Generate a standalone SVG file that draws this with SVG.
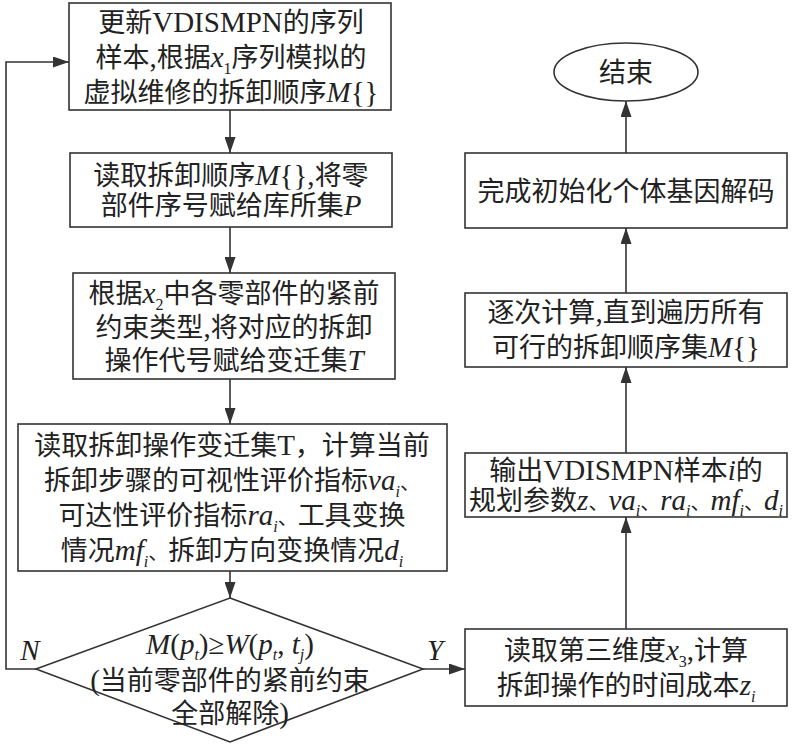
<svg xmlns="http://www.w3.org/2000/svg" width="794" height="745" viewBox="0 0 794 745">
<style>
.t{font-family:"Liberation Serif","Noto Sans CJK SC",serif;font-size:27px;fill:#222;text-anchor:middle}
.i{font-style:italic;font-size:29px}
.L{font-size:29px}
.s{font-size:16px}
.d{font-size:20px}
.box{fill:#fff;stroke:#333;stroke-width:1.6}
.ln{stroke:#333;stroke-width:1.6;fill:none}
</style>
<defs>
<marker id="ah" viewBox="0 0 16 11" refX="16" refY="5.5" markerWidth="16" markerHeight="11" markerUnits="userSpaceOnUse" orient="auto">
<path d="M0,0 L16,5.5 L0,11 z" fill="#333"/>
</marker>
</defs>
<rect width="794" height="745" fill="#fff"/>
<g id="connectors">
<line class="ln" x1="230" y1="110" x2="230" y2="153" marker-end="url(#ah)"/>
<line class="ln" x1="230" y1="227" x2="230" y2="273" marker-end="url(#ah)"/>
<line class="ln" x1="230" y1="379" x2="230" y2="424" marker-end="url(#ah)"/>
<line class="ln" x1="230" y1="571" x2="230" y2="598" marker-end="url(#ah)"/>
<polyline class="ln" points="36,669 6,669 6,62 69,62" marker-end="url(#ah)"/>
<line class="ln" x1="423" y1="669" x2="465" y2="669" marker-end="url(#ah)"/>
<line class="ln" x1="626" y1="629" x2="626" y2="517" marker-end="url(#ah)"/>
<line class="ln" x1="626" y1="453" x2="626" y2="367" marker-end="url(#ah)"/>
<line class="ln" x1="626" y1="293" x2="626" y2="228" marker-end="url(#ah)"/>
<line class="ln" x1="626" y1="153" x2="626" y2="101" marker-end="url(#ah)"/>
<text class="t i" x="30" y="660">N</text>
<text class="t i" x="435" y="660">Y</text>
</g>
<g id="n1">
<rect class="box" x="69" y="3" width="322" height="107"/>
<text class="t" x="231" y="32">更新<tspan class="L">VDISMPN</tspan>的序列</text>
<text class="t" x="231" y="67">样本<tspan class="L">,</tspan>根据<tspan class="i">x</tspan><tspan class="s" dy="7">1</tspan><tspan dy="-7">序列模拟的</tspan></text>
<text class="t" x="231" y="102">虚拟维修的拆卸顺序<tspan class="i">M</tspan><tspan class="L">{}</tspan></text>
</g>
<g id="n2">
<rect class="box" x="70" y="153" width="322" height="74"/>
<text class="t" x="231" y="185">读取拆卸顺序<tspan class="i">M</tspan><tspan class="L">{},</tspan>将零</text>
<text class="t" x="231" y="215">部件序号赋给库所集<tspan class="i">P</tspan></text>
</g>
<g id="n3">
<rect class="box" x="73" y="273" width="322" height="106"/>
<text class="t" x="234" y="303">根据<tspan class="i">x</tspan><tspan class="s" dy="7">2</tspan><tspan dy="-7">中各零部件的紧前</tspan></text>
<text class="t" x="234" y="337">约束类型<tspan class="L">,</tspan>将对应的拆卸</text>
<text class="t" x="234" y="370">操作代号赋给变迁集<tspan class="i">T</tspan></text>
</g>
<g id="n4">
<rect class="box" x="18" y="424" width="429" height="147"/>
<text class="t" x="232" y="455">读取拆卸操作变迁集<tspan class="L">T</tspan>，计算当前</text>
<text class="t" x="232" y="490">拆卸步骤的可视性评价指标<tspan class="i">va</tspan><tspan class="s i" dy="7">i</tspan><tspan class="d" dy="-7">、</tspan></text>
<text class="t" x="232" y="525">可达性评价指标<tspan class="i">ra</tspan><tspan class="s i" dy="7">i</tspan><tspan class="d" dy="-7">、</tspan>工具变换</text>
<text class="t" x="232" y="560">情况<tspan class="i">mf</tspan><tspan class="s i" dy="7">i</tspan><tspan class="d" dy="-7">、</tspan>拆卸方向变换情况<tspan class="i">d</tspan><tspan class="s i" dy="7">i</tspan></text>
</g>
<g id="n5">
<polygon class="box" points="230,598 423,669 230,742 36,669"/>
<text class="t" x="230" y="654"><tspan class="i">M</tspan><tspan class="L">(</tspan><tspan class="i">p</tspan><tspan class="s i" dy="6">t</tspan><tspan class="L" dy="-6">)≥</tspan><tspan class="i">W</tspan><tspan class="L">(</tspan><tspan class="i">p</tspan><tspan class="s i" dy="6">t</tspan><tspan class="L" dy="-6">, </tspan><tspan class="i">t</tspan><tspan class="s i" dy="6">j</tspan><tspan class="L" dy="-6">)</tspan></text>
<text class="t" x="230" y="690"><tspan class="L">(</tspan>当前零部件的紧前约束</text>
<text class="t" x="230" y="723">全部解除<tspan class="L">)</tspan></text>
</g>
<g id="n6">
<rect class="box" x="465" y="629" width="322" height="77"/>
<text class="t" x="626" y="660">读取第三维度<tspan class="i">x</tspan><tspan class="s" dy="7">3</tspan><tspan class="L" dy="-7">,</tspan>计算</text>
<text class="t" x="626" y="695">拆卸操作的时间成本<tspan class="i">z</tspan><tspan class="s i" dy="7">i</tspan></text>
</g>
<g id="n7">
<rect class="box" x="465" y="453" width="322" height="64"/>
<text class="t" x="626" y="480">输出<tspan class="L">VDISMPN</tspan>样本<tspan class="i">i</tspan>的</text>
<text class="t" x="626" y="510">规划参数<tspan class="i">z</tspan><tspan class="d">、</tspan><tspan class="i">va</tspan><tspan class="s i" dy="6">i</tspan><tspan class="d" dy="-6">、</tspan><tspan class="i">ra</tspan><tspan class="s i" dy="6">i</tspan><tspan class="d" dy="-6">、</tspan><tspan class="i">mf</tspan><tspan class="s i" dy="6">i</tspan><tspan class="d" dy="-6">、</tspan><tspan class="i">d</tspan><tspan class="s i" dy="6">i</tspan></text>
</g>
<g id="n8">
<rect class="box" x="465" y="293" width="322" height="74"/>
<text class="t" x="626" y="322">逐次计算<tspan class="L">,</tspan>直到遍历所有</text>
<text class="t" x="626" y="357">可行的拆卸顺序集<tspan class="i">M</tspan><tspan class="L">{}</tspan></text>
</g>
<g id="n9">
<rect class="box" x="465" y="153" width="322" height="75"/>
<text class="t" x="626" y="201">完成初始化个体基因解码</text>
</g>
<g id="n10">
<ellipse class="box" cx="626" cy="72" rx="72" ry="29"/>
<text class="t" x="626" y="82">结束</text>
</g>
</svg>
